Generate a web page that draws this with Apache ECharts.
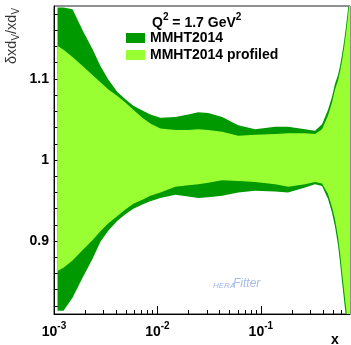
<!DOCTYPE html>
<html><head><meta charset="utf-8">
<script src="https://cdn.jsdelivr.net/npm/echarts@6/dist/echarts.min.js"></script>
<style>html,body{margin:0;padding:0;background:#fff}#c{width:351px;height:345px}</style>
</head><body><div id="c"></div>
<script>
// x sampling points (log axis)
const xValues = [0.001081,0.001235,0.001510,0.001927,0.002354,0.002811,0.003358,0.004101,0.004898,0.005851,0.007148,0.008538,0.01067,0.01489,0.01988,0.02483,0.03099,0.04229,0.06039,0.08810,0.1375,0.1834,0.2677,0.3342,0.3906,0.4462,0.4878,0.5214,0.5572,0.5825,0.6090,0.6369,0.6659,0.6963,0.7278];
// MMHT2014 band
const mmhtUpper = [1.188,1.188,1.186,1.158,1.137,1.116,1.099,1.084,1.075,1.067,1.061,1.056,1.052,1.053,1.056,1.059,1.058,1.053,1.043,1.038,1.041,1.041,1.038,1.036,1.044,1.062,1.078,1.094,1.105,1.116,1.130,1.146,1.165,1.186,1.21];
const mmhtLower = [0.814,0.814,0.830,0.857,0.878,0.899,0.913,0.925,0.933,0.940,0.945,0.949,0.953,0.957,0.955,0.953,0.954,0.956,0.960,0.962,0.961,0.960,0.966,0.970,0.968,0.952,0.935,0.918,0.895,0.874,0.850,0.828,0.805,0.78,0.76];
// MMHT2014 profiled band
const profUpper = [1.141,1.136,1.127,1.115,1.105,1.096,1.087,1.079,1.071,1.062,1.052,1.045,1.039,1.037,1.037,1.038,1.037,1.035,1.030,1.031,1.032,1.033,1.033,1.032,1.038,1.055,1.071,1.087,1.098,1.109,1.122,1.138,1.156,1.177,1.20];
const profLower = [0.863,0.867,0.876,0.890,0.901,0.912,0.922,0.931,0.939,0.946,0.951,0.956,0.960,0.967,0.969,0.970,0.972,0.975,0.974,0.973,0.970,0.967,0.970,0.973,0.971,0.958,0.942,0.927,0.905,0.886,0.862,0.840,0.818,0.795,0.77];

const seriesNames = ['MMHT2014', 'MMHT2014 profiled'];
const xTickLabelValues = [0.001, 0.01, 0.1];
const xMinorTickValues = [0.002,0.003,0.004,0.005,0.006,0.007,0.008,0.009,0.02,0.03,0.04,0.05,0.06,0.07,0.08,0.09,0.2,0.3,0.4,0.5,0.6,0.7];
const yTickLabelValues = [0.9, 1, 1.1];
const yMinorTickValues = [0.82,0.84,0.86,0.88,0.92,0.94,0.96,0.98,1.02,1.04,1.06,1.08,1.12,1.14,1.16,1.18];

const darkGreen = '#009900';
const lightGreen = '#99ff33';
const FONT = 'Liberation Sans';

const chart = echarts.init(document.getElementById('c'), null, {renderer: 'canvas'});

function bandRenderer(upper, lower, color) {
  return function (params, api) {
    const pts = [];
    for (let i = 0; i < xValues.length; i++) pts.push(api.coord([xValues[i], upper[i]]));
    for (let i = xValues.length - 1; i >= 0; i--) pts.push(api.coord([xValues[i], lower[i]]));
    const cs = params.coordSys;
    return {
      type: 'group',
      clipPath: {type: 'rect', shape: {x: cs.x, y: cs.y, width: cs.width, height: cs.height}},
      children: [{type: 'polygon', shape: {points: pts}, style: {fill: color}}]
    };
  };
}

const xRich = {
  b: {fontSize: 14, fontWeight: 'bold', fontFamily: FONT, color: '#000', lineHeight: 18, verticalAlign: 'bottom'},
  s: {fontSize: 10, fontWeight: 'bold', fontFamily: FONT, color: '#000', lineHeight: 10, verticalAlign: 'top'}
};

const option = {
  animation: false,
  backgroundColor: '#fff',
  grid: {left: 54, right: 1, top: 6, bottom: 31, show: true, borderColor: '#222', borderWidth: 1, backgroundColor: 'transparent', outerBoundsMode: 'none'},
  legend: {
    orient: 'vertical', left: 126, top: 31, padding: 0, itemWidth: 19, itemHeight: 10, itemGap: 3, icon: 'rect',
    textStyle: {fontSize: 14, fontWeight: 'bold', fontFamily: FONT, color: '#000', lineHeight: 12},
    data: seriesNames
  },
  xAxis: [
    {type: 'log', logBase: 10, min: 0.001, max: 0.7278, position: 'bottom',
     axisLine: {show: true, lineStyle: {color: '#000', width: 1}},
     axisTick: {show: true, inside: true, length: 8, customValues: xTickLabelValues, lineStyle: {color: '#000'}},
     axisLabel: {show: true, customValues: xTickLabelValues, margin: 7,
       formatter: function (v) { return '{b|10}{s|' + Math.round(Math.log10(v)) + '}'; }, rich: xRich},
     splitLine: {show: false}},
    {type: 'log', logBase: 10, min: 0.001, max: 0.7278, position: 'bottom',
     axisLine: {show: false},
     axisTick: {show: true, inside: true, length: 4, customValues: xMinorTickValues, lineStyle: {color: '#000'}},
     axisLabel: {show: false}, splitLine: {show: false}}
  ],
  yAxis: [
    {type: 'value', min: 0.81, max: 1.19, position: 'left',
     axisLine: {show: true, lineStyle: {color: '#000', width: 1}},
     axisTick: {show: true, inside: true, length: 7, customValues: yTickLabelValues, lineStyle: {color: '#000'}},
     axisLabel: {show: true, customValues: yTickLabelValues, margin: 5, fontSize: 14, fontWeight: 'bold', fontFamily: FONT, color: '#000',
       formatter: function (v) { return String(Math.round(v * 10) / 10); }},
     splitLine: {show: false}},
    {type: 'value', min: 0.81, max: 1.19, position: 'left', offset: 0,
     axisLine: {show: false},
     axisTick: {show: true, inside: true, length: 4, customValues: yMinorTickValues, lineStyle: {color: '#000'}},
     axisLabel: {show: false}, splitLine: {show: false}}
  ],
  graphic: [
    {type: 'text', left: 152, top: 12, z: 100,
     style: {text: '{b|Q}{s|2}{b| = 1.7 GeV}{s|2}', rich: {
       b: {fontSize: 14, fontWeight: 'bold', fontFamily: FONT, fill: '#000', lineHeight: 18, verticalAlign: 'bottom'},
       s: {fontSize: 10, fontWeight: 'bold', fontFamily: FONT, fill: '#000', lineHeight: 10, verticalAlign: 'top'}}}},
    {type: 'text', x: 13, y: 64, rotation: Math.PI / 2, z: 100,
     style: {text: '{a|δxd}{s|V}{a|/xd}{s|V}', align: 'left', verticalAlign: 'middle', rich: {
       a: {fontSize: 14.5, fontFamily: FONT, fill: '#333', lineHeight: 17, verticalAlign: 'top'},
       s: {fontSize: 10, fontFamily: FONT, fill: '#333', lineHeight: 10, verticalAlign: 'bottom'}}}},
    {type: 'text', x: 331, y: 333, z: 100,
     style: {text: 'x', fontSize: 14, fontWeight: 'bold', fontFamily: FONT, fill: '#000'}},
    {type: 'text', x: 213, y: 282, z: 100,
     style: {text: 'HERA', fontSize: 8, fontStyle: 'italic', fontFamily: FONT, fill: '#9fb6e6'}},
    {type: 'text', x: 233, y: 278, z: 100,
     style: {text: 'Fitter', fontSize: 12, fontStyle: 'italic', fontFamily: FONT, fill: '#a6bce8'}}
  ],
  series: [
    {name: seriesNames[0], type: 'custom', xAxisIndex: 0, yAxisIndex: 0, itemStyle: {color: darkGreen},
     renderItem: bandRenderer(mmhtUpper, mmhtLower, darkGreen), data: [[xValues[0], 1]], silent: true, z: 2},
    {name: seriesNames[1], type: 'custom', xAxisIndex: 0, yAxisIndex: 0, itemStyle: {color: lightGreen},
     renderItem: bandRenderer(profUpper, profLower, lightGreen), data: [[xValues[0], 1]], silent: true, z: 3}
  ]
};
chart.setOption(option);
</script>
</body></html>
